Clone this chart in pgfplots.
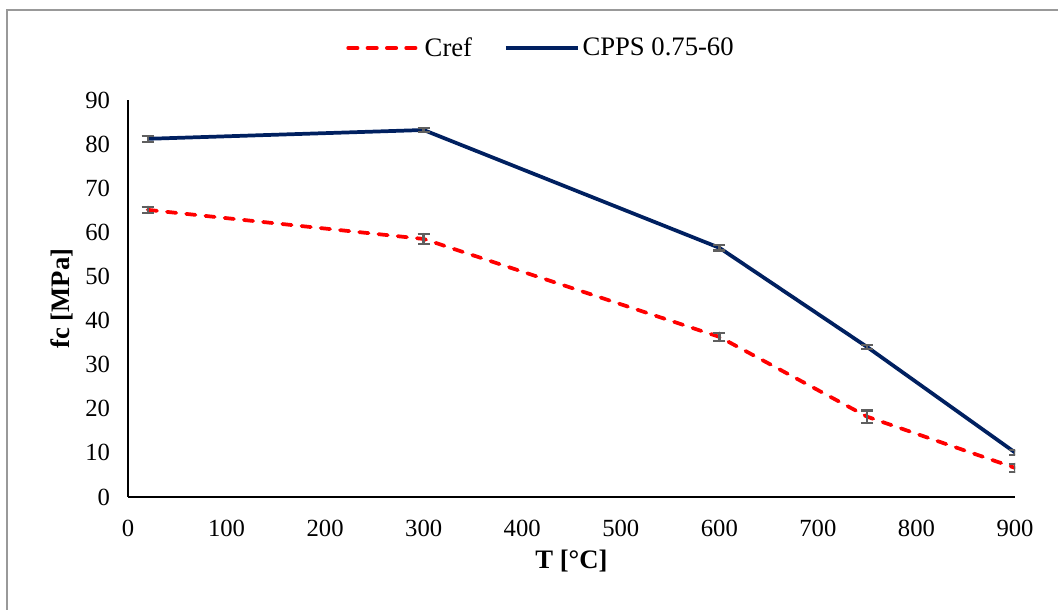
\documentclass[border=0pt]{standalone}
\usepackage{fontspec}
\setmainfont{Liberation Serif}
\usepackage{pgfplots}
\pgfplotsset{compat=1.18}
\definecolor{navy}{RGB}{0,32,96}
\definecolor{errgray}{RGB}{95,95,95}

% 1 px of the reference = 0.75pt
\begin{document}
\begin{tikzpicture}
  \useasboundingbox (0,0) rectangle (793.5pt,457.5pt);
  % outer chart frame (only left and top edges visible)
  \draw[gray!80, line width=0.8pt] (5.25pt,0) -- (5.25pt,450pt) -- (793.5pt,450pt);
  \begin{axis}[
      at={(96pt,84.75pt)}, anchor=south west,
      scale only axis,
      width=665.25pt, height=297.75pt,
      xmin=0, xmax=900, ymin=0, ymax=90,
      xtick={0,100,...,900},
      ytick={0,10,...,90},
      axis lines*=left,
      axis line style={black, line width=0.8pt, -},
      major tick length=0pt,
      tick label style={font=\fontsize{18.5}{20}\selectfont},
      xticklabel style={yshift=-14pt},
      yticklabel style={xshift=-10pt},
      /pgf/number format/assume math mode=true,
      xlabel={\textbf{T [°C]}},
      ylabel={\textbf{fc [MPa]}},
      label style={font=\fontsize{20}{22}\selectfont},
      xlabel style={yshift=-3pt},
      ylabel style={yshift=2pt},
      legend style={
          at={(0.466,1.131)}, anchor=center,
          draw=none, fill=none,
          legend columns=-1,
          font=\fontsize{20}{22}\selectfont,
          nodes={inner xsep=2pt},
          /tikz/every even column/.append style={column sep=22pt},
      },
      legend image code/.code={\draw[#1] (0pt,0pt) -- (54pt,0pt);},
      error bars/y dir=both,
      error bars/y explicit,
      error bars/error bar style={errgray, line width=1.8pt, solid},
      error bars/error mark options={rotate=90, mark size=4.5pt, errgray, line width=1.8pt, solid},
    ]
    % Cref
    \addplot[red, line width=2.8pt, line cap=round, dash pattern=on 7pt off 7.5pt]
      coordinates {
      (20,65.1) +- (0,0.7)
      (300,58.5) +- (0,1.1)
      (600,36.3) +- (0,0.9)
      (750,18.2) +- (0,1.4)
      (900,6.6) +- (0,0.9)
      };
    % CPPS 0.75-60
    \addplot[navy, line width=2.8pt]
      coordinates {
      (20,81.2) +- (0,0.7)
      (300,83.2) +- (0,0.5)
      (600,56.5) +- (0,0.6)
      (750,34.0) +- (0,0.5)
      (900,10.1) +- (0,0.6)
      };
    \legend{Cref, CPPS 0.75-60}
  \end{axis}
\end{tikzpicture}
\end{document}
